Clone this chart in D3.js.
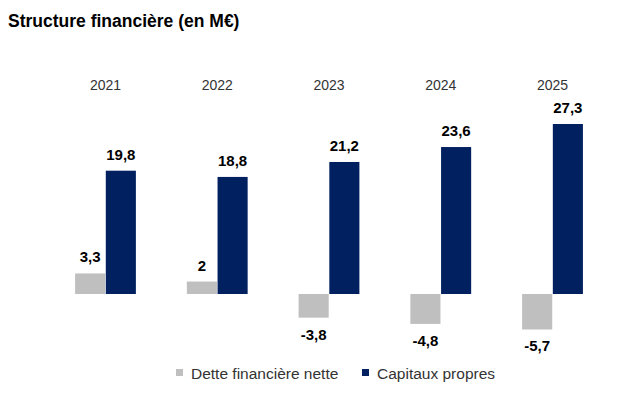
<!DOCTYPE html>
<html><head><meta charset="utf-8">
<script src="https://cdn.jsdelivr.net/npm/d3@7"></script>
<style>body{margin:0;background:#fff}svg{display:block}</style>
</head><body>
<svg id="c" width="640" height="406"></svg>
<script>
const years = ["2021","2022","2023","2024","2025"];
const dette = [3.3, 2, -3.8, -4.8, -5.7];
const capitaux = [19.8, 18.8, 21.2, 23.6, 27.3];
const seriesNames = ["Dette financière nette","Capitaux propres"];
const colors = ["#bfbfbf","#002060"];

const svg = d3.select("#c");
const font = "'Liberation Sans', Arial, sans-serif";
svg.append("text").attr("x",8).attr("y",27).attr("font-family",font)
  .attr("font-size",17.5).attr("font-weight","bold").attr("fill","#000")
  .text("Structure financière (en M€)");

const x = d3.scaleBand().domain(years).range([49.6,608.4]).paddingInner(0.445).paddingOuter(0.2225);
const x1 = d3.scaleBand().domain([0,1]).range([0,x.bandwidth()]).padding(0.02);
const y = d3.scaleLinear().domain([0,27.3]).range([294,124]);

const data = years.map((yr,i)=>({yr, vals:[dette[i],capitaux[i]]}));
const g = svg.append("g");
const grp = g.selectAll("g.grp").data(data).enter().append("g")
  .attr("transform",d=>`translate(${x(d.yr)},0)`);
grp.selectAll("rect").data(d=>d.vals.map((v,k)=>({v,k}))).enter().append("rect")
  .attr("x",d=>x1(d.k)).attr("width",x1.bandwidth())
  .attr("y",d=>y(Math.max(0,d.v))).attr("height",d=>Math.abs(y(d.v)-y(0)))
  .attr("fill",d=>colors[d.k]);
const fmt = v => String(v).replace(".",",");
grp.selectAll("text.v").data(d=>d.vals.map((v,k)=>({v,k}))).enter().append("text")
  .attr("x",d=>x1(d.k)+x1.bandwidth()/2)
  .attr("y",d=> d.v>=0 ? y(d.v)-11 : y(d.v)+22)
  .attr("text-anchor","middle").attr("font-family",font).attr("font-weight","bold")
  .attr("font-size",15).attr("fill","#000").text(d=>fmt(d.v));
// year labels
svg.selectAll("text.yr").data(years).enter().append("text")
  .attr("x",d=>x(d)+x.bandwidth()/2).attr("y",90).attr("text-anchor","middle")
  .attr("font-family",font).attr("font-size",14).attr("fill","#333").text(d=>d);

// legend
const leg = svg.append("g");
const legX = [176, 362];
seriesNames.forEach((n,k)=>{
  leg.append("rect").attr("x",legX[k]).attr("y",369).attr("width",7).attr("height",7).attr("fill",colors[k]);
  leg.append("text").attr("x",legX[k]+15).attr("y",378.5).attr("font-family",font)
    .attr("font-size",15.5).attr("fill","#333").text(n);
});
</script>
</body></html>
